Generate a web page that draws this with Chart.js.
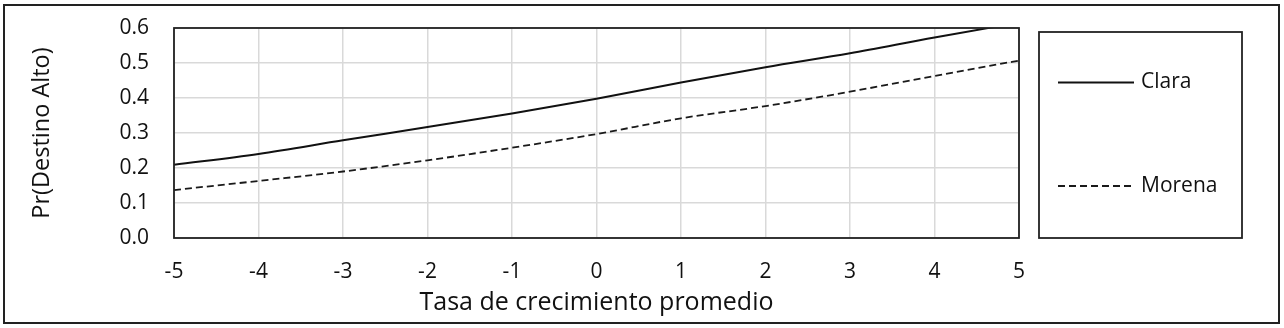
<!DOCTYPE html>
<html><head><meta charset="utf-8">
<script src="https://cdn.jsdelivr.net/npm/chart.js@4"></script>
<style>html,body{margin:0;padding:0;background:#fff;} #wrap{width:1284px;height:328px;position:relative}</style>
</head><body><div id="wrap"><canvas id="c" width="1284" height="328"></canvas></div>
<script>
const xValues = [-5, -4, -3, -2, -1, 0, 1, 2, 3, 4, 5];
const claraValues = [0.209, 0.240, 0.279, 0.317, 0.356, 0.398, 0.444, 0.488, 0.528, 0.573, 0.615];
const morenaValues = [0.137, 0.163, 0.190, 0.222, 0.258, 0.297, 0.342, 0.377, 0.418, 0.463, 0.507];
const seriesNames = ['Clara', 'Morena'];
const xTitle = 'Tasa de crecimiento promedio';
const yTitle = 'Pr(Destino Alto)';

const FONT = '"Open Sans", sans-serif';
const TXT = '#111';

const frame = {
  id: 'frame',
  beforeDraw(chart) {
    const ctx = chart.ctx;
    ctx.save();
    ctx.fillStyle = '#fff';
    ctx.fillRect(0, 0, chart.width, chart.height);
    ctx.restore();
  },
  afterDraw(chart) {
    const ctx = chart.ctx;
    const a = chart.chartArea;
    ctx.save();
    ctx.strokeStyle = '#222';
    ctx.lineWidth = 2;
    ctx.strokeRect(4, 5, 1275, 318);
    ctx.lineWidth = 1.8;
    ctx.strokeStyle = '#222';
    ctx.strokeRect(a.left, a.top, a.right - a.left, a.bottom - a.top);
    ctx.strokeRect(1039, 32, 203, 206);
    const ys = [82.5, 186];
    chart.data.datasets.forEach((ds, i) => {
      ctx.beginPath();
      ctx.setLineDash(ds.borderDash || []);
      ctx.lineWidth = ds.borderWidth;
      ctx.strokeStyle = ds.borderColor;
      ctx.moveTo(1058, ys[i]);
      ctx.lineTo(1134, ys[i]);
      ctx.stroke();
      ctx.setLineDash([]);
      ctx.fillStyle = TXT;
      ctx.font = '21px ' + FONT;
      ctx.textBaseline = 'middle';
      ctx.fillText(ds.label, 1141, ys[i]);
    });
    ctx.restore();
  }
};

new Chart(document.getElementById('c'), {
  type: 'line',
  data: {
    datasets: [
      { label: seriesNames[0], data: xValues.map((x, i) => ({x, y: claraValues[i]})),
        borderColor: '#111', borderWidth: 2, pointRadius: 0, tension: 0.4, cubicInterpolationMode: 'monotone', fill: false },
      { label: seriesNames[1], data: xValues.map((x, i) => ({x, y: morenaValues[i]})),
        borderColor: '#1a1a1a', borderWidth: 1.8, borderDash: [7, 4], pointRadius: 0, tension: 0.4, cubicInterpolationMode: 'monotone', fill: false }
    ]
  },
  options: {
    responsive: false,
    animation: false,
    devicePixelRatio: 1,
    layout: { padding: { top: 28, right: 265, left: 0, bottom: 0 } },
    plugins: { legend: { display: false }, tooltip: { enabled: false } },
    scales: {
      x: {
        type: 'linear', min: -5, max: 5,
        afterFit(s) { s.height = 90; },
        ticks: { stepSize: 1, padding: 21, color: TXT, font: { family: FONT, size: 21 } },
        grid: { color: '#d9d9d9', lineWidth: 1.5, drawTicks: false },
        border: { display: false },
        title: { display: true, text: xTitle, color: TXT, font: { family: FONT, size: 25 }, padding: { top: 0, bottom: 10 } }
      },
      y: {
        min: 0, max: 0.6,
        afterFit(s) { s.width = 174; s.paddingTop = 0; s.paddingBottom = 0; },
        ticks: { stepSize: 0.1, padding: 25, color: TXT, font: { family: FONT, size: 21 }, callback: v => v.toFixed(1) },
        grid: { color: '#d9d9d9', lineWidth: 1.5, drawTicks: false },
        border: { display: false },
        title: { display: true, text: yTitle, color: TXT, font: { family: FONT, size: 23.5 }, padding: { top: 28, bottom: 0 } }
      }
    }
  },
  plugins: [frame]
});
</script></body></html>
